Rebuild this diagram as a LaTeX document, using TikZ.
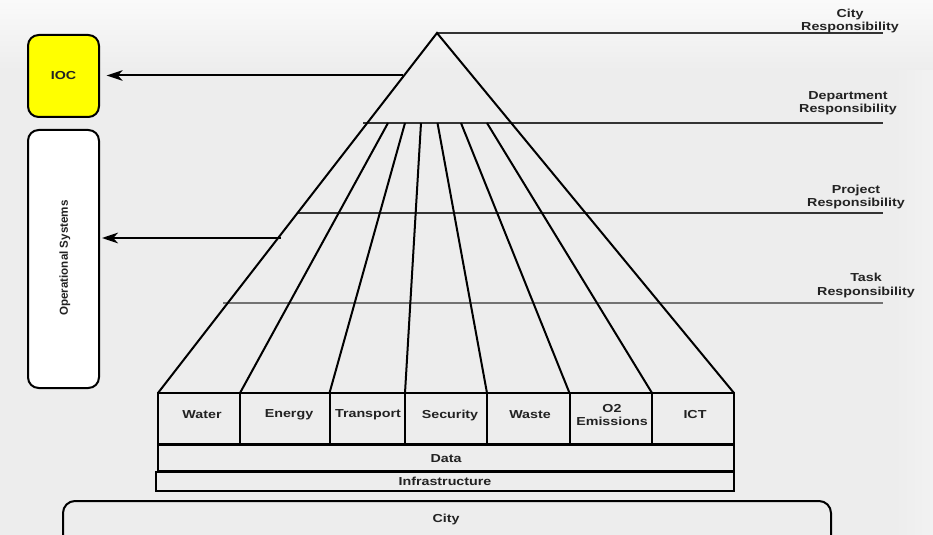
\documentclass[tikz,border=0pt]{standalone}
\usepackage{fontspec}
\setmainfont{Liberation Sans}
\newfontfamily\lab[FakeStretch=1.23]{Liberation Sans}
\usetikzlibrary{arrows.meta}
\definecolor{bgc}{HTML}{EDEDED}
\definecolor{bgtop}{HTML}{FAFAFA}
\definecolor{bgright}{HTML}{F2F2F2}
\definecolor{txt}{HTML}{222222}
\definecolor{iocyellow}{HTML}{FFFF00}
\begin{document}
\begin{tikzpicture}[x=0.75pt,y=-0.75pt,
  heavy/.style={line width=1.5pt, line join=miter},
  resp/.style={line width=0.8pt, draw=black!80},
  lbl/.style={font=\lab\bfseries\fontsize{8.7}{9.75}\selectfont, text=txt, align=center, inner sep=0pt},
  rbox/.style={draw, line width=1.5pt, rounded corners=8pt, inner sep=0pt},
  arr/.style={line width=1.5pt, -{Stealth[length=12pt,width=8pt,inset=3.5pt]}}]
\useasboundingbox (0,0) rectangle (933,535);
\clip (0,0) rectangle (933,535);
% background
\fill[bgc] (0,0) rectangle (933,535);
\shade[left color=bgc, right color=bgright] (895,60) rectangle (933,535);
\shade[top color=bgtop, bottom color=bgc] (0,0) rectangle (933,70);

% key points
\coordinate (apex) at (437,33);
\coordinate (bl) at (158,393);
\coordinate (br) at (734,393);

% responsibility lines
\draw[resp] (apex) -- (883,33);
\draw[resp] (363,123) -- (883,123);
\draw[resp] (298,213) -- (883,213);
\draw[resp, draw=black!55] (223,303) -- (883,303);

% responsibility labels
\node[lbl] (rcity) at (850,21) {City\\Responsibility};
\node[lbl] (rdept) at (848,103) {Department\\Responsibility};
\node[lbl] (rproj) at (856,197.5) {Project\\Responsibility};
\node[lbl] (rtask) at (866,285.5) {Task\\Responsibility};

% triangle
\draw[heavy] (bl) -- (apex) -- (br);

% fan lines
\foreach \t/\b in {388/240, 405/329.5, 421/405, 437.5/487, 461/569.5, 487/652}
  \draw[heavy] (\t,123) -- (\b,393);

% cell row
\draw[heavy] (158,393) rectangle (734,443.5);
\foreach \b in {240, 329.5, 405, 487, 569.5, 652}
  \draw[heavy] (\b,393) -- (\b,443.5);
\node[lbl] (water) at (202,415) {Water};
\node[lbl] (energy) at (289,415) {Energy};
\node[lbl] (transport) at (368,415) {Transport};
\node[lbl] (security) at (450,415) {Security};
\node[lbl] (wastec) at (530,415) {Waste};
\node[lbl] (o2) at (612,415) {O2\\Emissions};
\node[lbl] (ict) at (695,415) {ICT};

% data / infrastructure
\draw[heavy] (158,445) rectangle (734,471);
\node[lbl] (data) at (446,459) {Data};
\draw[heavy] (156,472) rectangle (734,491);
\node[lbl] (infra) at (445,481) {Infrastructure};

% city
\draw[heavy, rounded corners=9pt] (63,501) rectangle (831,548);
\node[lbl] (city) at (446,519.5) {City};

% left boxes
\node[rbox, fill=iocyellow, minimum width=53.25pt, minimum height=61.5pt] (ioc) at (63.5,76) {};
\node[lbl] (ioclbl) at (ioc) {IOC};
\node[rbox, fill=white, minimum width=53.25pt, minimum height=193.5pt] (os) at (63.5,259) {};
\node[font=\bfseries\fontsize{8.7}{9.75}\selectfont, text=txt, rotate=90, inner sep=0pt] (oslbl) at (65,258) {Operational Systems};

% arrows
\coordinate (iocsrc) at (403,75.5);
\coordinate (ossrc) at (281,238);
\draw[arr, shorten >=5pt] (iocsrc) -- (ioc.east |- iocsrc);
\draw[arr, shorten >=1.5pt] (ossrc) -- (os.east |- ossrc);
\end{tikzpicture}
\end{document}
